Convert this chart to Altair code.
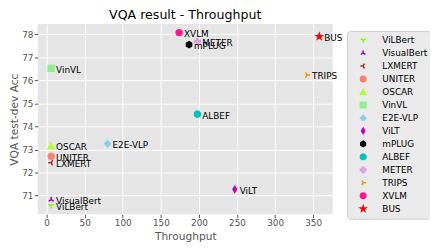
import altair as alt
import pandas as pd

models = ["ViLBert", "VisualBert", "LXMERT", "UNITER", "OSCAR", "VinVL", "E2E-VLP",
          "ViLT", "mPLUG", "ALBEF", "METER", "TRIPS", "XVLM", "BUS"]
throughput = [6, 6, 6, 6, 6, 6, 80, 247, 187, 198, 198, 342, 174, 358]
acc = [70.56, 70.82, 72.42, 72.70, 73.15, 76.52, 73.25, 71.27, 77.55, 74.53, 77.68, 76.23, 78.07, 77.90]
colors = ["#7CFC00", "#9400D3", "#B22222", "#FA8072", "#ADFF2F", "#90EE90", "#87CEEB",
          "#BF00BF", "#000000", "#00BFBF", "#DDA0DD", "#FF8C00", "#FF1493", "#FF0000"]

TRI_DOWN = "M0,0L0,1M0,0L-0.866,-0.5M0,0L0.866,-0.5"
TRI_UP = "M0,0L0,-1M0,0L-0.866,0.5M0,0L0.866,0.5"
TRI_LEFT = "M0,0L-1,0M0,0L0.5,-0.866M0,0L0.5,0.866"
TRI_RIGHT = "M0,0L1,0M0,0L-0.5,-0.866M0,0L-0.5,0.866"
THIN_DIAMOND = "M0,-1L0.6,0L0,1L-0.6,0Z"
HEXAGON = "M0,-1L0.866,-0.5L0.866,0.5L0,1L-0.866,0.5L-0.866,-0.5Z"
OCTAGON = "M-0.41,-1L0.41,-1L1,-0.41L1,0.41L0.41,1L-0.41,1L-1,0.41L-1,-0.41Z"
PLUS = "M-0.33,-1L0.33,-1L0.33,-0.33L1,-0.33L1,0.33L0.33,0.33L0.33,1L-0.33,1L-0.33,0.33L-1,0.33L-1,-0.33L-0.33,-0.33Z"
STAR = "M0,-1L0.235,-0.324L0.951,-0.309L0.38,0.124L0.588,0.809L0,0.4L-0.588,0.809L-0.38,0.124L-0.951,-0.309L-0.235,-0.324Z"
shapes = [TRI_DOWN, TRI_UP, TRI_LEFT, "circle", "triangle-up", "square", "diamond",
          THIN_DIAMOND, HEXAGON, OCTAGON, PLUS, TRI_RIGHT, "circle", STAR]
stroke_widths = [1.5, 1.5, 1.5, 0, 0, 0, 0, 0, 0, 0, 0, 1.5, 0, 0]

df = pd.DataFrame({"model": models, "throughput": throughput, "acc": acc})

xs = alt.X("throughput:Q", title="Throughput",
           scale=alt.Scale(domain=[-11.6, 375.6], nice=False, zero=False),
           axis=alt.Axis(values=[0, 50, 100, 150, 200, 250, 300, 350]))
ys = alt.Y("acc:Q", title="VQA test-dev Acc",
           scale=alt.Scale(domain=[70.19, 78.44], nice=False, zero=False),
           axis=alt.Axis(values=[71, 72, 73, 74, 75, 76, 77, 78]))

legend = alt.Legend(title=None, orient="none", legendX=314.5, legendY=7)

points = alt.Chart(df).mark_point(filled=True, opacity=1, size=36).encode(
    x=xs, y=ys,
    color=alt.Color("model:N", scale=alt.Scale(domain=models, range=colors), legend=legend, sort=models),
    stroke=alt.Stroke("model:N", scale=alt.Scale(domain=models, range=colors), legend=legend, sort=models),
    shape=alt.Shape("model:N", scale=alt.Scale(domain=models, range=shapes), legend=legend, sort=models),
    strokeWidth=alt.StrokeWidth("model:N", scale=alt.Scale(domain=models, range=stroke_widths), legend=None),
)

labels = alt.Chart(df).mark_text(align="left", baseline="middle", dx=5, dy=1.5,
                                 fontSize=9, font="DejaVu Sans", color="black").encode(
    x=xs, y=ys, text="model:N")

chart = (points + labels).properties(
    width=300, height=193.4,
    title=alt.TitleParams("VQA result - Throughput", fontSize=12.8, font="DejaVu Sans",
                          fontWeight="normal", color="black", offset=2.5),
    padding={"left": 30.3, "top": 14.3, "right": 99, "bottom": 30},
    autosize="none",
).configure_view(fill="#E5E5E5", stroke=None).configure_axis(
    domain=False, grid=True, gridColor="white", gridWidth=1,
    tickColor="#555555", tickSize=3.5, labelColor="#555555", labelFontSize=9,
    labelFont="DejaVu Sans", titleFont="DejaVu Sans", titleFontSize=10.8,
    titleColor="#555555", titleFontWeight="normal", labelPadding=1.5,
).configure_axisY(titlePadding=2).configure_axisX(titlePadding=3).configure_legend(
    fillColor="#EAEAEA", strokeColor="#CCCCCC", cornerRadius=3, padding=3,
    labelFontSize=9, labelFont="DejaVu Sans", labelColor="black",
    symbolSize=30, rowPadding=0.2, labelOffset=15, symbolOffset=9,
    symbolStrokeWidth=1.5, clipHeight=12.6,
)

chart.save("out.html", embed_options={"renderer": "svg", "actions": False})
